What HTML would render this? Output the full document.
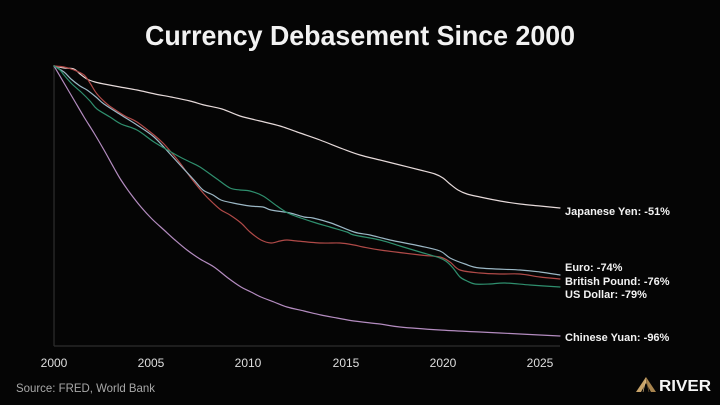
<!DOCTYPE html>
<html>
<head>
<meta charset="utf-8">
<style>
html,body{margin:0;padding:0;background:#050505;}
svg{display:block;}
</style>
</head>
<body>
<svg id="chart" width="720" height="405" viewBox="0 0 720 405" xmlns="http://www.w3.org/2000/svg">
<rect x="0" y="0" width="720" height="405" fill="#050505"/>
<text x="360" y="45" text-anchor="middle" font-family="Liberation Sans, sans-serif" font-weight="bold" font-size="28" fill="#f2f2f2" textLength="430" lengthAdjust="spacingAndGlyphs">Currency Debasement Since 2000</text>

<!-- axes -->
<line x1="54" y1="65" x2="54" y2="346" stroke="#2e2e2e" stroke-width="1.2"/>
<line x1="54" y1="346" x2="560" y2="346" stroke="#2e2e2e" stroke-width="1.2"/>

<g font-family="Liberation Sans, sans-serif" font-size="12" fill="#dedede" text-anchor="middle">
<text x="54" y="367">2000</text>
<text x="151" y="367">2005</text>
<text x="248" y="367">2010</text>
<text x="346" y="367">2015</text>
<text x="443" y="367">2020</text>
<text x="540" y="367">2025</text>
</g>

<g id="series" fill="none" stroke-width="1.2" stroke-linejoin="round" stroke-linecap="round">
<!-- Chinese Yuan -->
<polyline stroke="#b48cc0" points="54,66 64,83 74,100 84,117 94,133 104,150 114,168 121,180 130,193 141,207 152,219 164,230 175,240 187,250 200,259 214,267 228,278 241,287 251,292 261,297 274,302 287,307 304,311 321,315 337,318 354,321 380,324 400,327 440,330 480,332 520,334 560,336"/>
<!-- Japanese Yen -->
<polyline stroke="#e6dada" points="54,66 64,68 74,69 80,74 87,79 95,82 104,84 120,87 137,90 155,94 171,97 190,101 204,105 222,109 240,116 260,121 280,126 300,133 320,140 343,149 360,155 380,160 400,165 420,170 435,174 443,178 450,184 458,190 467,194 480,197 500,201 520,204 540,206 560,208"/>
<!-- British Pound -->
<polyline stroke="#b04a48" points="54,66 64,67 74,70 84,75 90,83 97,94 107,104 114,109 125,116 137,122 154,135 163,143 171,152 180,163 191,178 204,194 213,203 221,210 230,215 241,223 250,232 261,240 271,243 280,241 287,240 297,241 321,243 340,243 354,245 363,247 380,250 420,255 440,257 450,262 460,270 480,273 500,274 520,274 540,277 560,279"/>
<!-- Euro -->
<polyline stroke="#9cb8c6" points="54,66 64,72 71,79 80,86 87,90 96,97 104,104 121,115 137,125 154,137 171,155 181,166 194,180 203,190 213,195 221,200 233,203 250,206 263,207 271,210 290,213 304,217 313,218 331,223 354,232 370,235 390,240 420,246 440,251 450,258 465,264 480,268 520,270 540,272 560,275"/>
<!-- US Dollar -->
<polyline stroke="#2f8f6e" points="54,66 60,70 64,75 72,84 81,92 90,101 97,109 110,117 121,124 137,130 154,142 171,152 180,157 190,162 200,167 217,179 230,188 240,190 250,191 263,196 277,206 290,214 313,222 330,227 347,232 354,235 380,240 400,246 420,252 440,258 447,262 453,268 460,277 467,281 475,284 490,284 505,283 530,285 560,287"/>
</g>

<g font-family="Liberation Sans, sans-serif" font-weight="bold" font-size="11" fill="#f2f2f2">
<text x="565" y="215">Japanese Yen: -51%</text>
<text x="565" y="271">Euro: -74%</text>
<text x="565" y="285">British Pound: -76%</text>
<text x="565" y="298">US Dollar: -79%</text>
<text x="565" y="341">Chinese Yuan: -96%</text>
</g>

<text x="16" y="392" font-family="Liberation Sans, sans-serif" font-size="12" fill="#a8a8a8" textLength="139" lengthAdjust="spacingAndGlyphs">Source: FRED, World Bank</text>

<!-- RIVER logo -->
<g>
<polygon points="646,377 636,392 641,392 646,383" fill="#c9a46a"/>
<polygon points="646,377 646,383 651,392 656,392" fill="#a8844e"/>
<line x1="646" y1="379" x2="643" y2="392" stroke="#e0c08a" stroke-width="0.6"/>
<line x1="646" y1="379" x2="649" y2="392" stroke="#7d6038" stroke-width="0.6"/>
</g>
<text x="659" y="391" font-family="Liberation Sans, sans-serif" font-weight="bold" font-size="16" fill="#f4f4f4" textLength="52" lengthAdjust="spacingAndGlyphs">RIVER</text>
</svg>
<script>
(function(){
  var NS="http://www.w3.org/2000/svg";
  var g=document.getElementById("series");
  var pls=g.getElementsByTagName("polyline");
  var arr=[];for(var i=0;i<pls.length;i++)arr.push(pls[i]);
  arr.forEach(function(pl){
    var pts=pl.getAttribute("points").trim().split(/\s+/).map(function(s){var a=s.split(",");return [+a[0],+a[1]];});
    var d="M"+pts[0][0]+","+pts[0][1];
    for(var i=0;i<pts.length-1;i++){
      var p0=pts[i>0?i-1:i],p1=pts[i],p2=pts[i+1],p3=pts[i+2<pts.length?i+2:i+1];
      var c1x=p1[0]+(p2[0]-p0[0])/6,c1y=p1[1]+(p2[1]-p0[1])/6;
      var c2x=p2[0]-(p3[0]-p1[0])/6,c2y=p2[1]-(p3[1]-p1[1])/6;
      d+=" C"+c1x.toFixed(2)+","+c1y.toFixed(2)+" "+c2x.toFixed(2)+","+c2y.toFixed(2)+" "+p2[0]+","+p2[1];
    }
    var p=document.createElementNS(NS,"path");
    p.setAttribute("d",d);
    p.setAttribute("stroke",pl.getAttribute("stroke"));
    g.replaceChild(p,pl);
  });
})();
</script>
</body>
</html>
